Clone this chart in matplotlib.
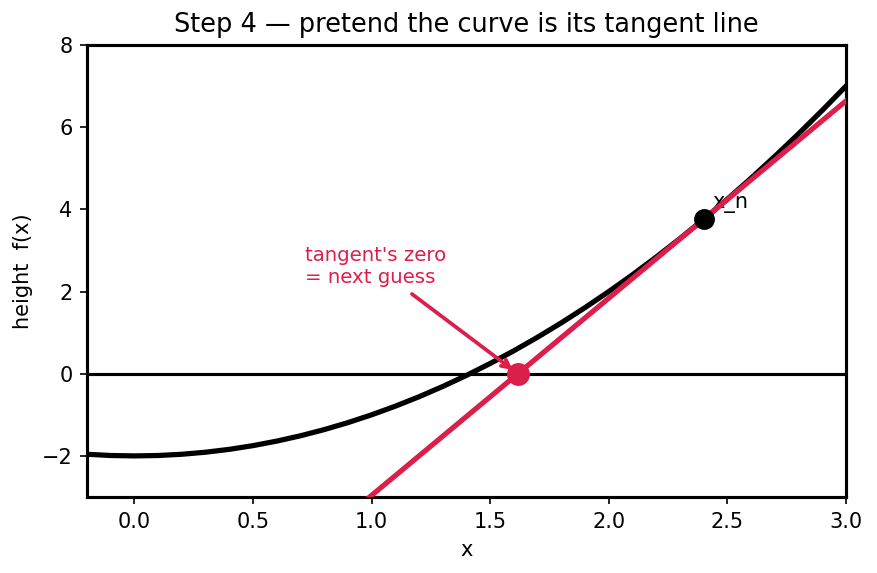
import matplotlib
matplotlib.use("Agg")
import matplotlib.pyplot as plt
import numpy as np

# curve samples
curve_x = [-0.2, -0.1, 0.0, 0.1, 0.2, 0.3, 0.4, 0.5, 0.6, 0.7, 0.8, 0.9, 1.0,
           1.1, 1.2, 1.3, 1.4, 1.5, 1.6, 1.7, 1.8, 1.9, 2.0, 2.1, 2.2, 2.3,
           2.4, 2.5, 2.6, 2.7, 2.8, 2.9, 3.0]
curve_y = [-1.96, -1.99, -2.0, -1.99, -1.96, -1.91, -1.84, -1.75, -1.64, -1.51,
           -1.36, -1.19, -1.0, -0.79, -0.56, -0.31, -0.04, 0.25, 0.56, 0.89,
           1.24, 1.61, 2.0, 2.41, 2.84, 3.29, 3.76, 4.25, 4.76, 5.29, 5.84,
           6.41, 7.0]
# tangent line endpoints
tangent_x = [0.8, 3.0]
tangent_y = [-3.92, 6.64]
# current point and next guess
xn = [2.4]
fxn = [3.76]
next_x = [1.617]
next_y = [0.0]

crimson = "#DC1E4B"

fig, ax = plt.subplots(figsize=(877/150, 573/150), dpi=150)
ax.axhline(0, color="black", lw=1.5)
ax.plot(curve_x, curve_y, color="black", lw=2.5, zorder=3)
ax.plot(tangent_x, tangent_y, color=crimson, lw=2.5, zorder=4)
ax.plot(xn, fxn, "o", color="black", ms=9, zorder=5)
ax.text(xn[0] + 0.035, fxn[0] + 0.27, "x_n", fontsize=10)
ax.plot(next_x, next_y, "o", color=crimson, ms=10, zorder=5)
ax.annotate("tangent's zero\n= next guess", xy=(next_x[0], next_y[0]),
            xytext=(0.72, 2.2), color=crimson, fontsize=9.5,
            arrowprops=dict(arrowstyle="->", color=crimson, lw=1.8, shrinkB=3))
ax.set_xlim(-0.2, 3.0)
ax.set_ylim(-3, 8)
ax.set_xlabel("x")
ax.set_ylabel("height  f(x)")
ax.set_title("Step 4 — pretend the curve is its tangent line", fontsize=12.3)
for s in ax.spines.values():
    s.set_linewidth(1.5)
fig.subplots_adjust(left=87/877, right=846/877, top=1-45/573, bottom=1-497/573)
fig.savefig("out.png", dpi=150)
